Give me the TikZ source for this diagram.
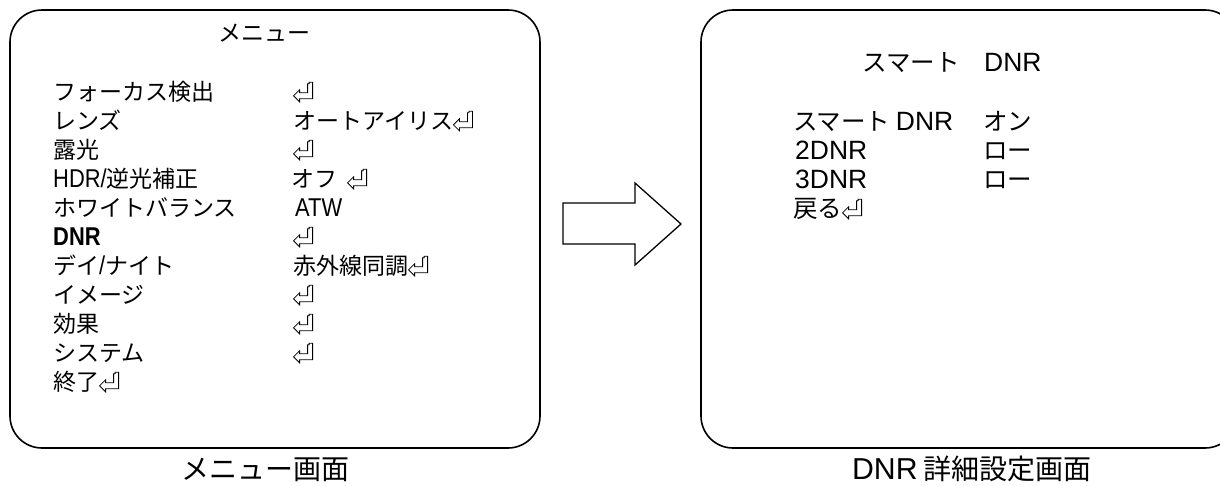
\documentclass[tikz,border=0pt]{standalone}
\usepackage{fontspec}
\setmainfont{Noto Sans CJK JP}
\newfontfamily\lat[Scale=1.12,FakeStretch=0.85]{Liberation Sans}
\newfontfamily\latr[Scale=1.08]{Liberation Sans}
\newcommand{\ret}{\tikz[x=1pt,y=1pt,baseline=-0.5pt]{\draw[line width=0.8pt, line join=miter]
  (0,4.5) -- (6,10.5) -- (6,7.5) -- (14,7.5) -- (14,16.5) -- (15.5,16.5) -- (15.5,18)
  -- (19,18) -- (19,1.5) -- (6,1.5) -- (6,-1.5) -- cycle;}}
\begin{document}
\begin{tikzpicture}[x=1pt,y=-1pt,
  screen/.style={draw, line width=1.6pt, rounded corners=32pt, inner sep=0pt},
  item/.style={anchor=west, inner sep=0pt, font=\fontsize{23}{23}\selectfont,
    text height=0.88em, text depth=0.12em},
  ritem/.style={item, font=\fontsize{24.5}{24.5}\selectfont},
  caption/.style={anchor=center, inner sep=0pt, font=\fontsize{28}{28}\selectfont,
    text height=0.88em, text depth=0.12em},
  blockarrow/.style={draw, line width=1.3pt, line join=miter, fill=white}]
\clip (0,0) rectangle (1220,485);
\useasboundingbox (0,0) rectangle (1220,485);

% screens
\node[screen, minimum width=530pt, minimum height=438pt] (menu) at (275,229) {};
\node[screen, minimum width=536pt, minimum height=438pt] (dnr) at (969,229) {};

% block arrow between the screens
\draw[blockarrow] (563,203) -- (635,203) -- (635,183) -- (681,224)
  -- (635,265) -- (635,244) -- (563,244) -- cycle;

% menu screen
\node[item, anchor=center] (mtitle) at (264,38) {メニュー};
\node[item] (l0) at (53,97)  {フォーカス検出};
\node[item] (r0) at (293,97) {\ret};
\node[item] (l1) at (53,126) {レンズ};
\node[item] (r1) at (293,126) {オートアイリス\ret};
\node[item] (l2) at (53,155) {露光};
\node[item] (r2) at (293,155) {\ret};
\node[item] (l3) at (53,184) {{\lat HDR/}逆光補正};
\node[item] (r3) at (291,184) {オフ\hspace{10pt}\ret};
\node[item] (l4) at (53,213) {ホワイトバランス};
\node[item] (r4) at (295,213) {{\lat ATW}};
\node[item] (l5) at (53,242) {{\lat\bfseries DNR}};
\node[item] (r5) at (293,242) {\ret};
\node[item] (l6) at (53,271) {デイ{\lat /}ナイト};
\node[item] (r6) at (293,271) {赤外線同調\ret};
\node[item] (l7) at (53,300) {イメージ};
\node[item] (r7) at (293,300) {\ret};
\node[item] (l8) at (53,329) {効果};
\node[item] (r8) at (293,329) {\ret};
\node[item] (l9) at (53,358) {システム};
\node[item] (r9) at (293,358) {\ret};
\node[item] (l10) at (53,387) {終了\ret};

% DNR screen
\node[ritem, anchor=center] (dtitle) at (952,68) {スマート　{\latr DNR}};
\node[ritem] (d0) at (793,127) {スマート {\latr DNR}};
\node[ritem] (e0) at (983,127) {オン};
\node[ritem] (d1) at (795,156) {{\latr 2DNR}};
\node[ritem] (e1) at (983,156) {ロー};
\node[ritem] (d2) at (795,185) {{\latr 3DNR}};
\node[ritem] (e2) at (983,185) {ロー};
\node[ritem] (d3) at (793,214) {戻る\ret};

% captions
\node[caption] (cap1) at (265,476) {メニュー画面};
\node[caption] (cap2) at (972,476) {{\latr DNR} 詳細設定画面};
\end{tikzpicture}
\end{document}
